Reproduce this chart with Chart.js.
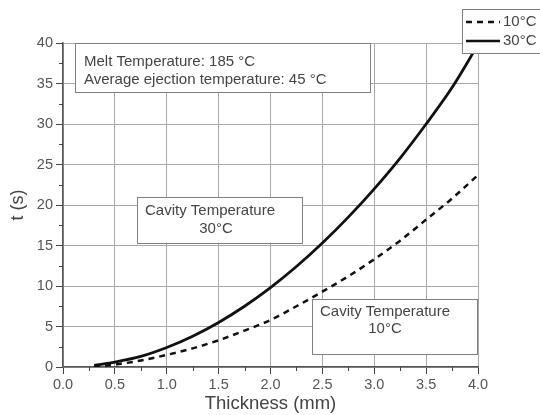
<!DOCTYPE html>
<html>
<head>
<meta charset="utf-8">
<script src="https://cdn.jsdelivr.net/npm/chart.js@4/dist/chart.umd.min.js"></script>
<style>
  html, body { margin: 0; padding: 0; background: #fff; }
  #wrap { width: 540px; height: 415px; }
</style>
</head>
<body>
<div id="wrap"><canvas id="c" width="540" height="415"></canvas></div>
<script>
// thickness (mm) and cooling time t (s)
const thickness = [0.3, 0.5, 0.75, 1.0, 1.25, 1.5, 1.75, 2.0, 2.25, 2.5, 2.75, 3.0, 3.25, 3.5, 3.75, 4.0];
const time10 = [0.0, 0.3, 0.8, 1.5, 2.3, 3.3, 4.5, 5.8, 7.5, 9.3, 11.2, 13.3, 15.6, 18.2, 20.8, 23.7];
const time30 = [0.2, 0.6, 1.3, 2.4, 3.8, 5.5, 7.5, 9.8, 12.4, 15.3, 18.5, 22.0, 25.8, 30.0, 34.5, 39.8];
const seriesLabels = ['10°C', '30°C'];
const xTicks = [0, 0.5, 1, 1.5, 2, 2.5, 3, 3.5, 4];
const yTicks = [0, 5, 10, 15, 20, 25, 30, 35, 40];

const FONT = '"Liberation Sans", Arial, sans-serif';
const TXT = '#444';

const toPoints = (xs, ys) => xs.map((x, i) => ({ x, y: ys[i] }));

// minor ticks + text boxes + legend drawn on top
const extras = {
  id: 'extras',
  afterDatasetsDraw(chart) {
    const { ctx, scales: { x, y } } = chart;
    ctx.save();
    // minor ticks
    ctx.strokeStyle = '#444';
    ctx.lineWidth = 1;
    for (let v = 0.25; v < 4; v += 0.5) {
      const px = Math.round(x.getPixelForValue(v)) + 0.5;
      ctx.beginPath(); ctx.moveTo(px, y.bottom); ctx.lineTo(px, y.bottom + 4); ctx.stroke();
    }
    for (let v = 2.5; v < 40; v += 5) {
      const py = Math.round(y.getPixelForValue(v)) + 0.5;
      ctx.beginPath(); ctx.moveTo(x.left - 4, py); ctx.lineTo(x.left, py); ctx.stroke();
    }

    const box = (x0, y0, x1, y1) => {
      ctx.fillStyle = '#fff';
      ctx.fillRect(x0, y0, x1 - x0, y1 - y0);
      ctx.strokeStyle = '#808080';
      ctx.lineWidth = 1;
      ctx.strokeRect(x0 + 0.5, y0 + 0.5, x1 - x0, y1 - y0);
    };
    ctx.font = '15px ' + FONT;
    ctx.fillStyle = TXT;
    ctx.textBaseline = 'middle';

    // melt temperature box
    box(75, 43, 370, 92);
    ctx.fillStyle = TXT; ctx.textAlign = 'left';
    ctx.fillText('Melt Temperature: 185 °C', 84, 62);
    ctx.fillText('Average ejection temperature: 45 °C', 84, 80);

    // 30°C cavity box
    box(137, 197, 302, 243);
    ctx.fillStyle = TXT;
    ctx.textAlign = 'left';
    ctx.fillText('Cavity Temperature', 145, 211);
    ctx.textAlign = 'center';
    ctx.fillText('30°C', 216, 229);

    // 10°C cavity box
    box(312, 299, 477, 354);
    ctx.fillStyle = TXT;
    ctx.textAlign = 'left';
    ctx.fillText('Cavity Temperature', 320, 312);
    ctx.textAlign = 'center';
    ctx.fillText('10°C', 385, 329);

    // legend
    box(462, 9, 541, 53);
    chart.data.datasets.forEach((ds, i) => {
      const ly = 22 + i * 19;
      ctx.strokeStyle = '#111';
      ctx.lineWidth = 2.5;
      ctx.setLineDash(ds.borderDash || []);
      ctx.beginPath(); ctx.moveTo(466, ly); ctx.lineTo(500, ly); ctx.stroke();
      ctx.setLineDash([]);
      ctx.fillStyle = TXT;
      ctx.textAlign = 'left';
      ctx.fillText(ds.label, 503, ly);
    });
    ctx.restore();
  }
};

new Chart(document.getElementById('c'), {
  type: 'line',
  data: {
    datasets: [
      {
        label: seriesLabels[0],
        data: toPoints(thickness, time10),
        borderColor: '#111',
        borderWidth: 2.5,
        borderDash: [6, 5],
        pointRadius: 0,
        cubicInterpolationMode: 'monotone',
        fill: false
      },
      {
        label: seriesLabels[1],
        data: toPoints(thickness, time30),
        borderColor: '#111',
        borderWidth: 2.8,
        pointRadius: 0,
        cubicInterpolationMode: 'monotone',
        fill: false
      }
    ]
  },
  options: {
    responsive: false,
    animation: false,
    events: [],
    layout: { padding: { top: 43, right: 62, left: 0, bottom: 0 } },
    plugins: { legend: { display: false }, tooltip: { enabled: false } },
    scales: {
      x: {
        type: 'linear',
        min: 0, max: 4,
        afterFit: s => { s.height = 48; },
        afterBuildTicks: s => { s.ticks = xTicks.map(v => ({ value: v })); },
        grid: { color: '#a8a8a8', lineWidth: 1, tickColor: '#444', tickLength: 7 },
        border: { color: '#555', width: 1.5 },
        ticks: {
          padding: 2,
          color: '#555',
          font: { family: FONT, size: 14.5 },
          maxRotation: 0,
          callback: v => v.toFixed(1)
        },
        title: {
          display: true,
          text: 'Thickness (mm)',
          color: TXT,
          font: { family: FONT, size: 18.5 },
          padding: { top: 1, bottom: 0 }
        }
      },
      y: {
        min: 0, max: 40,
        afterFit: s => { s.width = 63; },
        afterBuildTicks: s => { s.ticks = yTicks.map(v => ({ value: v })); },
        grid: { color: '#a8a8a8', lineWidth: 1, tickColor: '#444', tickLength: 7 },
        border: { color: '#555', width: 1.5 },
        ticks: {
          padding: 3,
          color: '#555',
          font: { family: FONT, size: 14.5 }
        },
        title: {
          display: true,
          text: 't (s)',
          color: TXT,
          font: { family: FONT, size: 18 },
          padding: { top: 7, bottom: 0 }
        }
      }
    }
  },
  plugins: [extras]
});
</script>
</body>
</html>
